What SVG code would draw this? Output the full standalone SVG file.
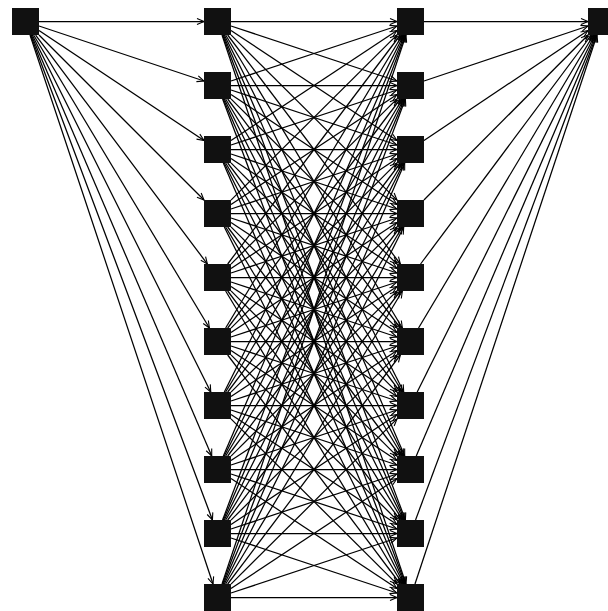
<svg xmlns="http://www.w3.org/2000/svg" width="608" height="611" viewBox="0 0 608 611">
<style>
.n{fill:#111}
.e line{stroke:#000;stroke-width:1.25;fill:none;marker-end:url(#ah)}
</style>
<defs>
<marker id="ah" markerUnits="userSpaceOnUse" markerWidth="8" markerHeight="7" refX="7" refY="3" orient="auto" overflow="visible">
<path d="M0,0 L7,3 L0,6" fill="none" stroke="#000" stroke-width="1.1"/>
</marker>
</defs>
<rect width="608" height="611" fill="#fff"/>
<g id="connectors" class="e">
<line x1="39" y1="21.5" x2="204" y2="21.5"/>
<line x1="39" y1="26" x2="204" y2="81"/>
<line x1="39" y1="30.5" x2="204" y2="140.5"/>
<line x1="39" y1="35" x2="204" y2="200"/>
<line x1="35.63" y1="35" x2="207.38" y2="264"/>
<line x1="33.6" y1="35" x2="209.4" y2="328"/>
<line x1="32.25" y1="35" x2="210.75" y2="392"/>
<line x1="31.29" y1="35" x2="211.71" y2="456"/>
<line x1="30.56" y1="35" x2="212.44" y2="520"/>
<line x1="30" y1="35" x2="213" y2="584"/>

<line x1="231" y1="21.5" x2="397" y2="21.5"/>
<line x1="231" y1="25.98" x2="397" y2="81.02"/>
<line x1="231" y1="30.45" x2="397" y2="140.55"/>
<line x1="231" y1="34.93" x2="397" y2="200.07"/>
<line x1="227.68" y1="35" x2="400.32" y2="264"/>
<line x1="225.64" y1="35" x2="402.36" y2="328"/>
<line x1="224.29" y1="35" x2="403.71" y2="392"/>
<line x1="223.32" y1="35" x2="404.68" y2="456"/>
<line x1="222.59" y1="35" x2="405.41" y2="520"/>
<line x1="222.02" y1="35" x2="405.98" y2="584"/>

<line x1="231" y1="81.02" x2="397" y2="25.98"/>
<line x1="231" y1="85.5" x2="397" y2="85.5"/>
<line x1="231" y1="89.98" x2="397" y2="145.02"/>
<line x1="231" y1="94.45" x2="397" y2="204.55"/>
<line x1="231" y1="98.93" x2="397" y2="264.07"/>
<line x1="227.68" y1="99" x2="400.32" y2="328"/>
<line x1="225.64" y1="99" x2="402.36" y2="392"/>
<line x1="224.29" y1="99" x2="403.71" y2="456"/>
<line x1="223.32" y1="99" x2="404.68" y2="520"/>
<line x1="222.59" y1="99" x2="405.41" y2="584"/>

<line x1="231" y1="140.55" x2="397" y2="30.45"/>
<line x1="231" y1="145.02" x2="397" y2="89.98"/>
<line x1="231" y1="149.5" x2="397" y2="149.5"/>
<line x1="231" y1="153.98" x2="397" y2="209.02"/>
<line x1="231" y1="158.45" x2="397" y2="268.55"/>
<line x1="231" y1="162.93" x2="397" y2="328.07"/>
<line x1="227.68" y1="163" x2="400.32" y2="392"/>
<line x1="225.64" y1="163" x2="402.36" y2="456"/>
<line x1="224.29" y1="163" x2="403.71" y2="520"/>
<line x1="223.32" y1="163" x2="404.68" y2="584"/>

<line x1="231" y1="200.07" x2="397" y2="34.93"/>
<line x1="231" y1="204.55" x2="397" y2="94.45"/>
<line x1="231" y1="209.02" x2="397" y2="153.98"/>
<line x1="231" y1="213.5" x2="397" y2="213.5"/>
<line x1="231" y1="217.98" x2="397" y2="273.02"/>
<line x1="231" y1="222.45" x2="397" y2="332.55"/>
<line x1="231" y1="226.93" x2="397" y2="392.07"/>
<line x1="227.68" y1="227" x2="400.32" y2="456"/>
<line x1="225.64" y1="227" x2="402.36" y2="520"/>
<line x1="224.29" y1="227" x2="403.71" y2="584"/>

<line x1="227.68" y1="264" x2="400.32" y2="35"/>
<line x1="231" y1="264.07" x2="397" y2="98.93"/>
<line x1="231" y1="268.55" x2="397" y2="158.45"/>
<line x1="231" y1="273.02" x2="397" y2="217.98"/>
<line x1="231" y1="277.5" x2="397" y2="277.5"/>
<line x1="231" y1="281.98" x2="397" y2="337.02"/>
<line x1="231" y1="286.45" x2="397" y2="396.55"/>
<line x1="231" y1="290.93" x2="397" y2="456.07"/>
<line x1="227.68" y1="291" x2="400.32" y2="520"/>
<line x1="225.64" y1="291" x2="402.36" y2="584"/>

<line x1="225.64" y1="328" x2="402.36" y2="35"/>
<line x1="227.68" y1="328" x2="400.32" y2="99"/>
<line x1="231" y1="328.07" x2="397" y2="162.93"/>
<line x1="231" y1="332.55" x2="397" y2="222.45"/>
<line x1="231" y1="337.02" x2="397" y2="281.98"/>
<line x1="231" y1="341.5" x2="397" y2="341.5"/>
<line x1="231" y1="345.98" x2="397" y2="401.02"/>
<line x1="231" y1="350.45" x2="397" y2="460.55"/>
<line x1="231" y1="354.93" x2="397" y2="520.07"/>
<line x1="227.68" y1="355" x2="400.32" y2="584"/>

<line x1="224.29" y1="392" x2="403.71" y2="35"/>
<line x1="225.64" y1="392" x2="402.36" y2="99"/>
<line x1="227.68" y1="392" x2="400.32" y2="163"/>
<line x1="231" y1="392.07" x2="397" y2="226.93"/>
<line x1="231" y1="396.55" x2="397" y2="286.45"/>
<line x1="231" y1="401.02" x2="397" y2="345.98"/>
<line x1="231" y1="405.5" x2="397" y2="405.5"/>
<line x1="231" y1="409.98" x2="397" y2="465.02"/>
<line x1="231" y1="414.45" x2="397" y2="524.55"/>
<line x1="231" y1="418.93" x2="397" y2="584.07"/>

<line x1="223.32" y1="456" x2="404.68" y2="35"/>
<line x1="224.29" y1="456" x2="403.71" y2="99"/>
<line x1="225.64" y1="456" x2="402.36" y2="163"/>
<line x1="227.68" y1="456" x2="400.32" y2="227"/>
<line x1="231" y1="456.07" x2="397" y2="290.93"/>
<line x1="231" y1="460.55" x2="397" y2="350.45"/>
<line x1="231" y1="465.02" x2="397" y2="409.98"/>
<line x1="231" y1="469.5" x2="397" y2="469.5"/>
<line x1="231" y1="473.98" x2="397" y2="529.02"/>
<line x1="231" y1="478.45" x2="397" y2="588.55"/>

<line x1="222.59" y1="520" x2="405.41" y2="35"/>
<line x1="223.32" y1="520" x2="404.68" y2="99"/>
<line x1="224.29" y1="520" x2="403.71" y2="163"/>
<line x1="225.64" y1="520" x2="402.36" y2="227"/>
<line x1="227.68" y1="520" x2="400.32" y2="291"/>
<line x1="231" y1="520.07" x2="397" y2="354.93"/>
<line x1="231" y1="524.55" x2="397" y2="414.45"/>
<line x1="231" y1="529.02" x2="397" y2="473.98"/>
<line x1="231" y1="533.5" x2="397" y2="533.5"/>
<line x1="231" y1="537.98" x2="397" y2="593.02"/>

<line x1="222.02" y1="584" x2="405.98" y2="35"/>
<line x1="222.59" y1="584" x2="405.41" y2="99"/>
<line x1="223.32" y1="584" x2="404.68" y2="163"/>
<line x1="224.29" y1="584" x2="403.71" y2="227"/>
<line x1="225.64" y1="584" x2="402.36" y2="291"/>
<line x1="227.68" y1="584" x2="400.32" y2="355"/>
<line x1="231" y1="584.07" x2="397" y2="418.93"/>
<line x1="231" y1="588.55" x2="397" y2="478.45"/>
<line x1="231" y1="593.02" x2="397" y2="537.98"/>
<line x1="231" y1="597.5" x2="397" y2="597.5"/>

<line x1="424" y1="21.5" x2="588" y2="21.5"/>
<line x1="424" y1="80.98" x2="588" y2="26.02"/>
<line x1="424" y1="140.45" x2="588" y2="30.55"/>
<line x1="423.93" y1="200" x2="588.07" y2="35"/>
<line x1="420.57" y1="264" x2="591.43" y2="35"/>
<line x1="418.56" y1="328" x2="593.44" y2="35"/>
<line x1="417.21" y1="392" x2="594.79" y2="35"/>
<line x1="416.26" y1="456" x2="595.74" y2="35"/>
<line x1="415.54" y1="520" x2="596.46" y2="35"/>
<line x1="414.98" y1="584" x2="597.02" y2="35"/>
</g>
<g id="source"><rect class="n" x="12" y="8" width="27" height="27"/></g>
<g id="a0"><rect class="n" x="204" y="8" width="27" height="27"/></g>
<g id="a1"><rect class="n" x="204" y="72" width="27" height="27"/></g>
<g id="a2"><rect class="n" x="204" y="136" width="27" height="27"/></g>
<g id="a3"><rect class="n" x="204" y="200" width="27" height="27"/></g>
<g id="a4"><rect class="n" x="204" y="264" width="27" height="27"/></g>
<g id="a5"><rect class="n" x="204" y="328" width="27" height="27"/></g>
<g id="a6"><rect class="n" x="204" y="392" width="27" height="27"/></g>
<g id="a7"><rect class="n" x="204" y="456" width="27" height="27"/></g>
<g id="a8"><rect class="n" x="204" y="520" width="27" height="27"/></g>
<g id="a9"><rect class="n" x="204" y="584" width="27" height="27"/></g>
<g id="b0"><rect class="n" x="397" y="8" width="27" height="27"/></g>
<g id="b1"><rect class="n" x="397" y="72" width="27" height="27"/></g>
<g id="b2"><rect class="n" x="397" y="136" width="27" height="27"/></g>
<g id="b3"><rect class="n" x="397" y="200" width="27" height="27"/></g>
<g id="b4"><rect class="n" x="397" y="264" width="27" height="27"/></g>
<g id="b5"><rect class="n" x="397" y="328" width="27" height="27"/></g>
<g id="b6"><rect class="n" x="397" y="392" width="27" height="27"/></g>
<g id="b7"><rect class="n" x="397" y="456" width="27" height="27"/></g>
<g id="b8"><rect class="n" x="397" y="520" width="27" height="27"/></g>
<g id="b9"><rect class="n" x="397" y="584" width="27" height="27"/></g>
<g id="sink"><rect class="n" x="588" y="8" width="27" height="27"/></g>
</svg>
